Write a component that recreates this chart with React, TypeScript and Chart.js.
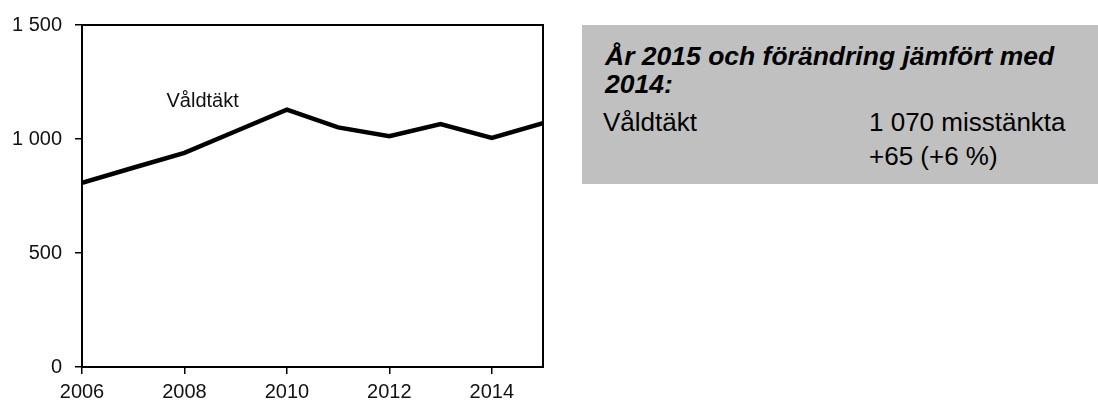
import React, { useEffect, useRef } from "react";
import { Chart, registerables } from "chart.js";

Chart.register(...registerables);

const years = [2006, 2007, 2008, 2009, 2010, 2011, 2012, 2013, 2014, 2015];
const rapeValues = [808, 874, 939, 1034, 1129, 1051, 1012, 1065, 1005, 1070];
const seriesLabel = "Våldtäkt";
const xTickValues = [2006, 2008, 2010, 2012, 2014];
const yTickValues = [0, 500, 1000, 1500];
const yTickLabels = ["0", "500", "1 000", "1 500"];

const boxTitle = ["År 2015 och förändring jämfört med", "2014:"];
const boxCategory = "Våldtäkt";
const boxValueLines = ["1 070 misstänkta", "+65 (+6 %)"];

const FONT = '"Liberation Sans", Arial, Helvetica, sans-serif';

const framePlugin = {
  id: "frame",
  afterDatasetsDraw(chart: any) {
    const { ctx, chartArea } = chart;
    ctx.save();
    ctx.strokeStyle = "#000";
    ctx.lineWidth = 2;
    ctx.strokeRect(chartArea.left, chartArea.top, chartArea.right - chartArea.left, chartArea.bottom - chartArea.top);
    ctx.restore();
  },
};

const seriesLabelPlugin = {
  id: "seriesLabel",
  afterDatasetsDraw(chart: any, _args: any, opts: any) {
    const { ctx, scales } = chart;
    const x = scales.x.getPixelForValue(opts.year);
    const y = scales.y.getPixelForValue(opts.value);
    ctx.save();
    ctx.font = `20px ${FONT}`;
    ctx.fillStyle = "#111";
    ctx.textAlign = "left";
    ctx.textBaseline = "alphabetic";
    ctx.fillText(opts.text, x, y);
    ctx.restore();
  },
};

function LineChart() {
  const ref = useRef<HTMLCanvasElement | null>(null);
  useEffect(() => {
    if (!ref.current) return;
    const chart = new Chart(ref.current, {
      type: "line",
      data: {
        datasets: [
          {
            label: seriesLabel,
            data: years.map((y, i) => ({ x: y, y: rapeValues[i] })),
            borderColor: "#000",
            borderWidth: 4.5,
            pointRadius: 0,
            tension: 0,
            fill: false,
            borderJoinStyle: "miter",
          } as any,
        ],
      },
      plugins: [framePlugin, seriesLabelPlugin],
      options: {
        responsive: false,
        animation: false,
        layout: { padding: { top: 23, right: 27, left: 0, bottom: 0 } },
        plugins: {
          legend: { display: false },
          tooltip: { enabled: false },
          seriesLabel: { text: seriesLabel, year: 2007.65, value: 1140 },
        } as any,
        scales: {
          x: {
            type: "linear",
            min: 2006,
            max: 2015,
            afterBuildTicks: (scale: any) => {
              scale.ticks = xTickValues.map((v) => ({ value: v }));
            },
            afterFit: (scale: any) => {
              scale.height = 33;
            },
            ticks: {
              callback: (v: any) => String(v),
              color: "#111",
              font: { family: FONT, size: 20 },
              padding: 6,
              maxRotation: 0,
              autoSkip: false,
            },
            grid: { drawOnChartArea: false, drawTicks: true, tickLength: 7, color: "#000", lineWidth: 1.5 },
            border: { display: true, color: "#000", width: 2 },
          },
          y: {
            type: "linear",
            min: 0,
            max: 1500,
            afterBuildTicks: (scale: any) => {
              scale.ticks = yTickValues.map((v) => ({ value: v }));
            },
            afterFit: (scale: any) => {
              scale.width = 82;
            },
            ticks: {
              callback: (_v: any, i: number) => yTickLabels[i],
              color: "#111",
              font: { family: FONT, size: 20 },
              padding: 13,
              autoSkip: false,
            },
            grid: { drawOnChartArea: false, drawTicks: true, tickLength: 7, color: "#000", lineWidth: 1.5 },
            border: { display: true, color: "#000", width: 2 },
          },
        },
      },
    });
    return () => chart.destroy();
  }, []);
  return <canvas ref={ref} width={570} height={400} style={{ width: 570, height: 400, display: "block" }} />;
}

export default function App() {
  const titleStyle: React.CSSProperties = {
    position: "absolute",
    left: 23,
    fontFamily: FONT,
    fontSize: 25,
    fontWeight: "bold",
    fontStyle: "italic",
    lineHeight: "27px",
    whiteSpace: "nowrap",
    color: "#000",
    transform: "scaleX(1.06)",
    transformOrigin: "left top",
  };
  const bodyStyle: React.CSSProperties = {
    position: "absolute",
    fontFamily: FONT,
    fontSize: 26,
    lineHeight: "30px",
    whiteSpace: "nowrap",
    color: "#000",
  };
  return (
    <div style={{ position: "absolute", left: 0, top: 0, width: 1098, height: 400, background: "#fff", overflow: "hidden" }}>
      <div style={{ position: "absolute", left: 0, top: 0 }}>
        <LineChart />
      </div>
      <div style={{ position: "absolute", left: 582, top: 25, width: 516, height: 159, background: "#c0c0c0" }}>
        <div style={{ ...titleStyle, top: 17.5 }}>{boxTitle[0]}</div>
        <div style={{ ...titleStyle, top: 45.5 }}>{boxTitle[1]}</div>
        <div style={{ ...bodyStyle, left: 21, top: 82 }}>{boxCategory}</div>
        <div style={{ ...bodyStyle, left: 287, top: 82 }}>{boxValueLines[0]}</div>
        <div style={{ ...bodyStyle, left: 287, top: 116 }}>{boxValueLines[1]}</div>
      </div>
    </div>
  );
}
